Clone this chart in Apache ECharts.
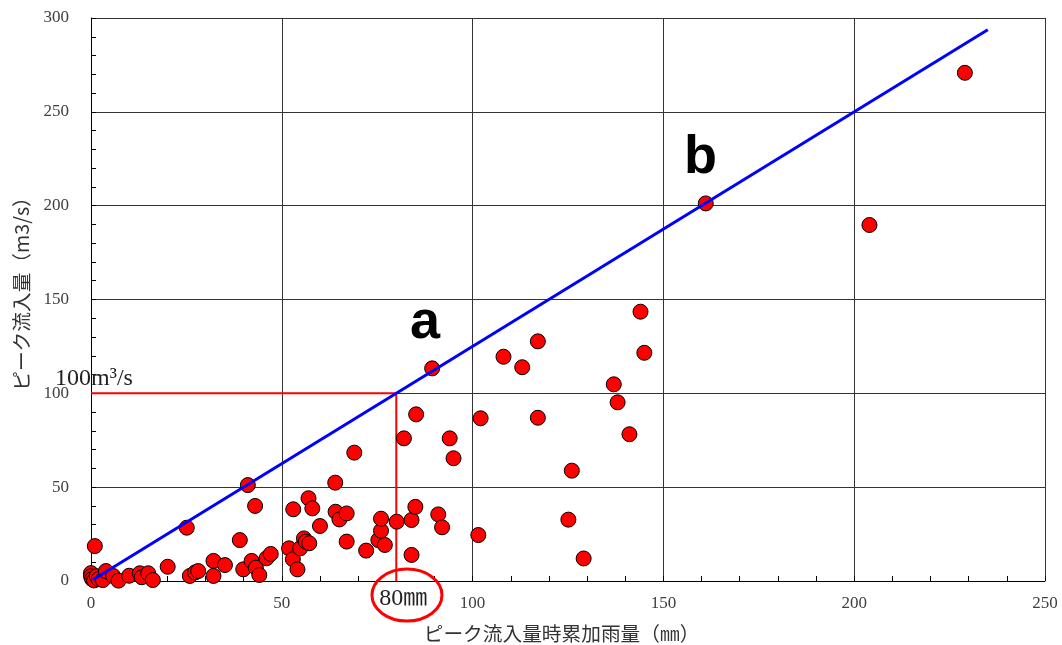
<!DOCTYPE html>
<html><head><meta charset="utf-8">
<script src="https://cdn.jsdelivr.net/npm/echarts@6/dist/echarts.min.js"></script>
<style>html,body{margin:0;padding:0;background:#fff}#c{width:1062px;height:645px}</style>
</head><body><div id="c"></div>
<script>
// ---- data ----
const xTickLabels = ['0','50','100','150','200','250'];
const yTickLabels = ['0','50','100','150','200','250','300'];
const rainX = [0,0,0.3,0.8,1.5,2,1,3.1,3.9,5.8,7.2,10,12.8,13.3,15,16.2,20.1,25.1,25.9,27.3,28.1,
  32.1,32.1,35.1,39,39.9,41.1,42.1,43,43.2,44.1,46,47.1,
  51.9,52.9,53,54.1,54.8,55.8,56.3,57.2,57,58,60,
  64,64.1,65.1,67,67,69,72.1,75.3,76,76,77,80.1,82,84,84,85.2,85,
  89.4,91,92,94,95,101.5,102.1,108.1,113,117.1,117.1,
  125.1,126,129.1,137,138,141.1,144,145,161.1,204,229];
const flowY = [4.2,2.5,1,0.3,2.5,1,18.6,0.5,5.3,2.7,0.2,2.8,4.1,2,4.1,0.5,7.6,28.4,2.7,4.6,5.3,
  10.7,2.7,8.5,21.8,6.2,51.1,10.7,40,7.1,3.2,12.1,14.4,
  17.4,11.6,38.2,6.2,17.4,22.7,21,20.1,44.1,38.7,29.3,
  52.4,36.9,32.8,36,21,68.4,16.2,21.8,26.8,33.2,19.2,31.6,76,32.5,13.9,88.8,39.5,
  113.3,35.5,28.6,76,65.4,24.5,86.7,119.5,113.9,127.7,87,
  32.7,58.8,12,104.8,95.2,78.2,143.5,121.6,201.2,189.7,270.8];
const fitX = [0.5, 235];
const fitY = [0.625, 293.75];
const refX = [0, 80, 80];
const refY = [100, 100, 0];
const xName = 'ピーク流入量時累加雨量（㎜）';
const yName = 'ピーク流入量（m3/s）';
const flowNote = '100m³/s';
const rainNote = '80㎜';
const pointA = 'a';
const pointB = 'b';

const serif = '"Liberation Serif", "Noto Sans CJK JP", serif';
const cjk = '"Noto Sans CJK JP", sans-serif';
const chart = echarts.init(document.getElementById('c'), null, {renderer:'canvas'});
const zip = (a,b)=>a.map((v,i)=>[v,b[i]]);

const option = {
  animation:false,
  backgroundColor:'#fff',
  grid:{left:91, right:17, top:18, bottom:64, containLabel:false},
  xAxis:{type:'value', min:0, max:250, interval:50,
    axisLine:{show:true, onZero:false, lineStyle:{color:'#000', width:1}},
    axisTick:{show:true, inside:true, length:5, lineStyle:{color:'#000'}},
    minorTick:{show:true, splitNumber:5, length:5, lineStyle:{color:'#000'}},
    splitLine:{show:true, lineStyle:{color:'#333', width:1}},
    axisLabel:{margin:14, fontFamily:serif, fontSize:17, color:'#404040',
      formatter:(v)=>xTickLabels[Math.round(v/50)] ?? ''}
  },
  yAxis:{type:'value', min:0, max:300, interval:50,
    axisLine:{show:true, onZero:false, lineStyle:{color:'#000', width:1}},
    axisTick:{show:true, inside:true, length:5, lineStyle:{color:'#000'}},
    minorTick:{show:true, splitNumber:5, length:5, lineStyle:{color:'#000'}},
    splitLine:{show:true, lineStyle:{color:'#333', width:1}},
    axisLabel:{margin:22, fontFamily:serif, fontSize:17, color:'#404040',
      formatter:(v)=>yTickLabels[Math.round(v/50)] ?? ''}
  },
  series:[
    {type:'line', data:zip(refX,refY), symbol:'none', z:2, silent:true,
      lineStyle:{color:'#ff0000', width:2}},
    {type:'scatter', data:zip(rainX,flowY), symbol:'circle', symbolSize:15, z:3,
      itemStyle:{color:'#ff0000', borderColor:'#000', borderWidth:1, opacity:1}},
    {type:'line', data:zip(fitX,fitY), symbol:'none', z:4, silent:true,
      lineStyle:{color:'#0000ff', width:3}}
  ]
};
chart.setOption(option);

const p = (x,y)=>chart.convertToPixel({gridIndex:0},[x,y]);
const a = p(87.5,137.5), b = p(159.7,225.4), fn = p(-9.43,107.6), rn = p(81.8,-9.5),
      el = p(82.8,-7.5), xn = p(123.3,-28.2), yn = p(-18.1,155.6);
chart.setOption({graphic:[
  {type:'text', x:a[0], y:a[1], z:10, style:{text:pointA, font:'bold 54px "Liberation Sans", Arial, sans-serif', fill:'#000', align:'center', verticalAlign:'middle'}},
  {type:'text', x:b[0], y:b[1], z:10, style:{text:pointB, font:'bold 54px "Liberation Sans", Arial, sans-serif', fill:'#000', align:'center', verticalAlign:'middle'}},
  {type:'text', x:fn[0], y:fn[1], z:10, style:{text:flowNote, font:'24px '+serif, fill:'#222', align:'left', verticalAlign:'middle'}},
  {type:'text', x:rn[0], y:rn[1], z:10, style:{text:rainNote, font:'24px '+serif, fill:'#222', align:'center', verticalAlign:'middle'}},
  {type:'ellipse', shape:{cx:el[0], cy:el[1], rx:35, ry:26}, z:9, style:{fill:null, stroke:'#ff0000', lineWidth:3}},
  {type:'text', x:xn[0], y:xn[1], z:10, style:{text:xName, font:'19.7px '+cjk, fill:'#333', align:'center', verticalAlign:'middle'}},
  {type:'text', x:yn[0], y:yn[1], rotation:Math.PI/2, z:10, style:{text:yName, font:'19.7px '+cjk, fill:'#333', align:'center', verticalAlign:'middle'}}
]});
</script></body></html>
